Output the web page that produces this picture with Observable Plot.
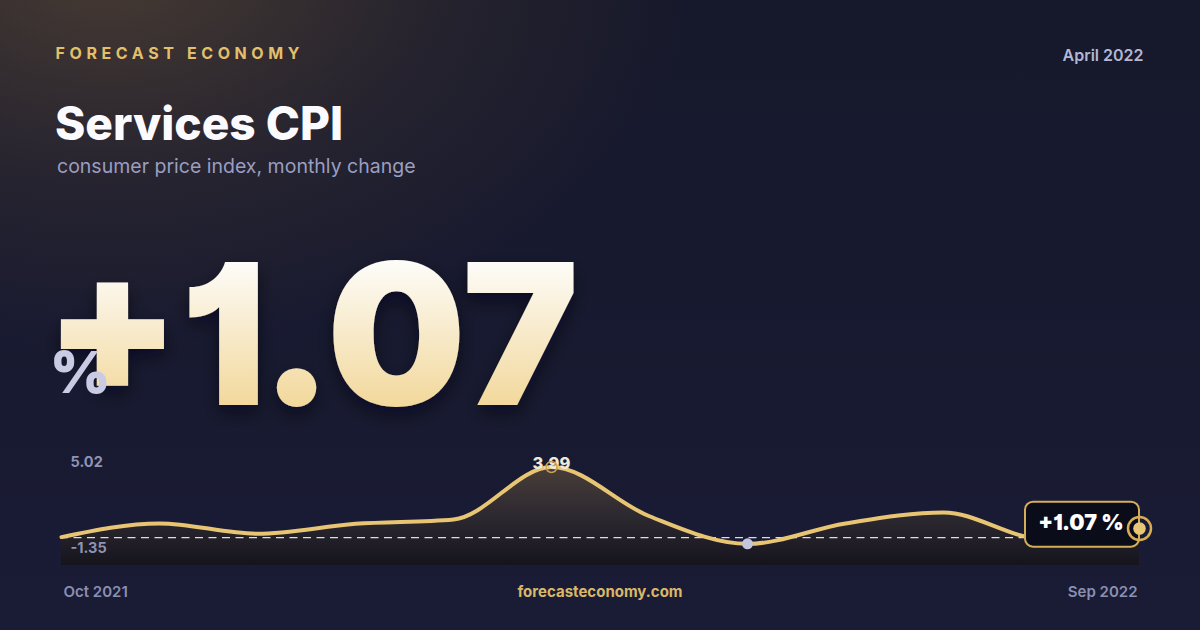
<!DOCTYPE html>
<html>
<head>
<meta charset="utf-8">
<script src="https://cdn.jsdelivr.net/npm/d3@7"></script>
<script src="https://cdn.jsdelivr.net/npm/@observablehq/plot@0.6"></script>
<style>
html, body { margin: 0; padding: 0; background: #181a30; }
#card {
  position: relative; width: 1200px; height: 630px; overflow: hidden;
  background:
    radial-gradient(ellipse 760px 500px at 9% -6%, rgba(104,82,56,0.60), rgba(104,82,56,0.18) 45%, rgba(104,82,56,0) 78%),
    linear-gradient(180deg, #16182b 0%, #181a31 60%, #1a1b35 100%);
  font-family: Inter, "Noto Sans", sans-serif;
}
#deco { position: absolute; left: 0; top: 0; }
#chart { position: absolute; left: 0; top: 440px; width: 1200px; height: 190px; }
#chart svg { overflow: visible; }
.alt1 { font-feature-settings: "cv01"; }
</style>
</head>
<body>
<div id="card">
  <svg id="deco" width="1200" height="630" xmlns="http://www.w3.org/2000/svg">
    <defs>
      <linearGradient id="numGrad" gradientUnits="userSpaceOnUse" x1="0" y1="262" x2="0" y2="405">
        <stop offset="0" stop-color="#fdfcf8"/>
        <stop offset="1" stop-color="#f2d89c"/>
      </linearGradient>
      <filter id="numShadow" x="-10%" y="-20%" width="130%" height="150%">
        <feDropShadow dx="0" dy="8" stdDeviation="9" flood-color="#05050c" flood-opacity="0.55"/>
      </filter>
    </defs>
    <text id="brand" x="55.5" y="59" font-family="Inter" font-weight="700" font-size="16" letter-spacing="4.6" fill="#e3bf6c"></text>
    <text id="date" x="1143.5" y="60.5" text-anchor="end" font-family="Inter" font-weight="600" font-size="16" fill="#b4b7d3"></text>
    <text id="title" x="55" y="140" font-family="Inter" font-weight="800" font-size="46" fill="#fafaff"></text>
    <text id="subtitle" x="57" y="172.5" font-family="Inter" font-weight="400" font-size="19.5" fill="#9a9ec0"></text>
    <text id="big" class="alt1" x="44.5" y="404.5" font-family="Inter" font-weight="900" font-size="196" fill="url(#numGrad)" filter="url(#numShadow)"></text>
    <text id="pct" x="50" y="392.5" font-family="Inter" font-weight="900" font-size="58" fill="#c8cbe3"></text>
    <text id="site" x="600" y="597" text-anchor="middle" font-family="Inter" font-weight="700" font-size="15" fill="#d9b868"></text>
  </svg>
  <div id="chart"></div>
</div>
<script>
// ---- data ----
const brand = "FORECAST ECONOMY";
const dateLabel = "April 2022";
const title = "Services CPI";
const subtitle = "consumer price index, monthly change";
const site = "forecasteconomy.com";
const months = ["Oct 2021","Nov 2021","Dec 2021","Jan 2022","Feb 2022","Mar 2022","Apr 2022","May 2022","Jun 2022","Jul 2022","Aug 2022","Sep 2022"];
const values = [0.66, 1.31, 0.82, 1.29, 1.50, 3.99, 1.65, 0.34, 1.31, 1.83, 0.60, 1.07];
const baseline = 0.63;
const yDomain = [-0.69, 5.25];
const yLabels = ["5.02", "-1.35"];
const xTickLabels = [months[0], months[months.length - 1]];

// ---- build ----
const data = months.map((m, i) => ({month: m, value: values[i]}));
const peak = data.reduce((a, b) => (b.value > a.value ? b : a));
const low = data.reduce((a, b) => (b.value < a.value ? b : a));
const last = data[data.length - 1];
const fmtSigned = v => (v >= 0 ? "+" : "") + v.toFixed(2);

document.getElementById("brand").textContent = brand;
document.getElementById("date").textContent = dateLabel;
document.getElementById("title").textContent = title;
document.getElementById("subtitle").textContent = subtitle;
document.getElementById("big").textContent = fmtSigned(last.value);
document.getElementById("pct").textContent = "%";
document.getElementById("site").textContent = site;

function labelBox(index, scales) {
  const px = scales.x(last.month), py = scales.y(last.value);
  const g = d3.create("svg:g");
  g.append("rect")
    .attr("x", px - 114).attr("y", py - 26.3)
    .attr("width", 114).attr("height", 45).attr("rx", 8)
    .attr("fill", "#0b0c19").attr("stroke", "#d4ad59").attr("stroke-width", 2);
  g.append("text")
    .attr("class", "alt1")
    .attr("x", px - 58).attr("y", py + 2)
    .attr("text-anchor", "middle")
    .attr("font-family", "Inter").attr("font-weight", 900).attr("font-size", 21.5)
    .attr("fill", "#ffffff")
    .text(fmtSigned(last.value) + " %");
  return g.node();
}

const plot = Plot.plot({
  width: 1200, height: 190,
  marginLeft: 60, marginRight: 60, marginTop: 0, marginBottom: 65,
  style: {background: "transparent", overflow: "visible", fontFamily: "Inter", color: "#8b8fb1"},
  x: {type: "point", domain: months, padding: 0, axis: null},
  y: {domain: yDomain, axis: null},
  marks: [
    Plot.areaY(data, {x: "month", y1: yDomain[0], y2: "value", curve: "monotone-x", fill: "url(#areaGrad)"}),
    Plot.ruleY([baseline], {stroke: "#ffffff", strokeOpacity: 0.85, strokeWidth: 1.3, strokeDasharray: "8,5.5"}),
    Plot.lineY(data, {x: "month", y: "value", curve: "monotone-x", stroke: "#e8c573", strokeWidth: 4, strokeLinecap: "round"}),
    Plot.text([peak], {x: "month", y: "value", text: d => d.value.toFixed(2), dy: -3.5, fill: "#efe8d6", fontSize: 16.5, fontWeight: 800, fontFamily: "Inter"}),
    Plot.dot([peak], {x: "month", y: "value", r: 5.5, stroke: "#c9a24e", strokeWidth: 1.5, fill: "none"}),
    Plot.dot([low], {x: "month", y: "value", r: 5.5, fill: "#c3c6de", stroke: "none"}),
    labelBox,
    Plot.dot([last], {x: "month", y: "value", r: 11.5, stroke: "#d6ad55", strokeWidth: 2.5, fill: "none"}),
    Plot.dot([last], {x: "month", y: "value", r: 6.3, fill: "#e8c676", stroke: "none"}),
    Plot.text([yLabels[0]], {frameAnchor: "top-left", text: d => d, dx: 10, dy: 21.5, textAnchor: "start", lineAnchor: "middle", fontSize: 14.5, fontWeight: 700, fill: "#8f93b6"}),
    Plot.text([yLabels[1]], {frameAnchor: "bottom-left", text: d => d, dx: 10, dy: -17.3, textAnchor: "start", lineAnchor: "middle", fontSize: 14.5, fontWeight: 700, fill: "#8f93b6"}),
    Plot.axisX([xTickLabels[0]], {tickSize: 0, tickPadding: 21, textAnchor: "start", dx: 2, fontSize: 15, fontWeight: 600, label: null, fill: "#8b8fb1"}),
    Plot.axisX([xTickLabels[1]], {tickSize: 0, tickPadding: 21, textAnchor: "end", dx: -2, fontSize: 15, fontWeight: 600, label: null, fill: "#8b8fb1"})
  ]
});

// gradient for the area under the line
const svg = d3.select(plot);
const defs = svg.insert("defs", ":first-child");
const grad = defs.append("linearGradient").attr("id", "areaGrad")
  .attr("gradientUnits", "userSpaceOnUse").attr("x1", 0).attr("x2", 0).attr("y1", 20).attr("y2", 125);
grad.append("stop").attr("offset", 0).attr("stop-color", "#4c403a");
grad.append("stop").attr("offset", 0.55).attr("stop-color", "#2c2830");
grad.append("stop").attr("offset", 1).attr("stop-color", "#15141d");

document.getElementById("chart").appendChild(plot);
</script>
</body>
</html>
